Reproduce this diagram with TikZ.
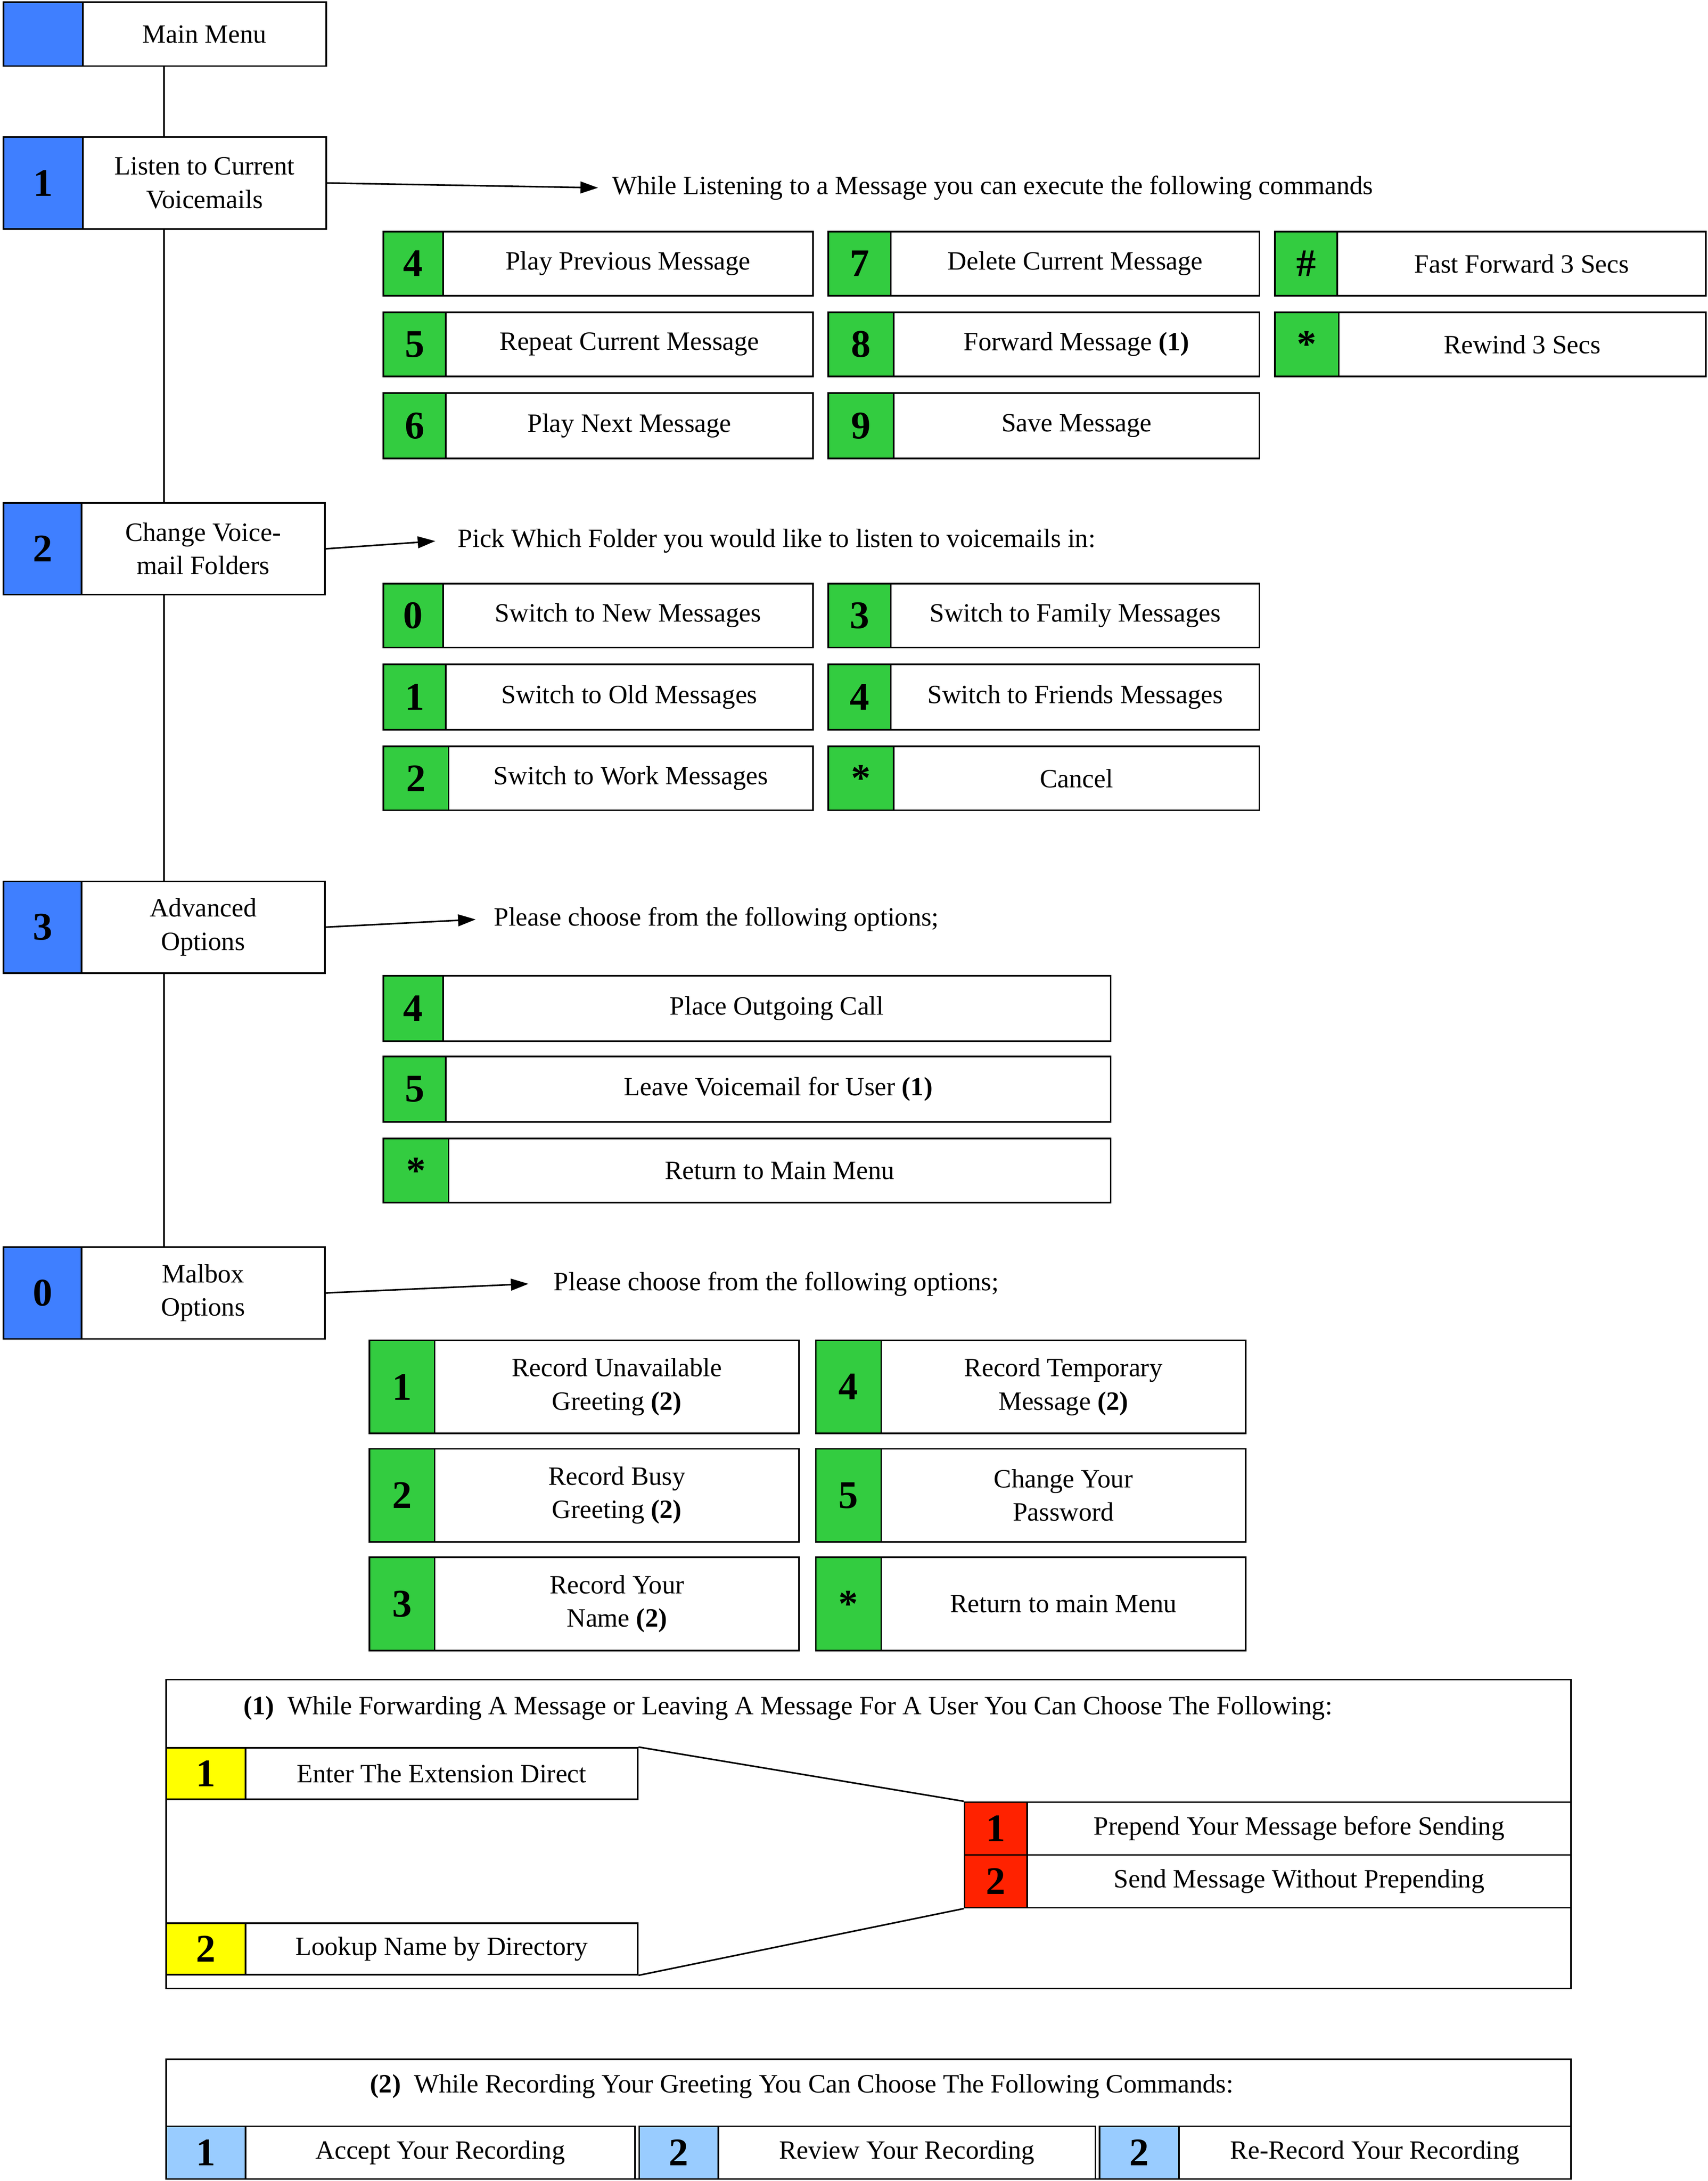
\documentclass[tikz,border=0pt]{standalone}
\usepackage{fontspec}
\setmainfont{Liberation Serif}
\usetikzlibrary{arrows.meta}
\definecolor{kblue}{HTML}{3F7FFF}
\definecolor{kgreen}{HTML}{33CC40}
\definecolor{kyellow}{HTML}{FFFF00}
\definecolor{kred}{HTML}{FF2200}
\definecolor{klblue}{HTML}{99CCFF}
\tikzset{
 kbox/.style={draw,line width=1.6pt,anchor=north west,inner sep=0pt,font=\fontsize{40}{40}\selectfont\bfseries},
 tbox/.style={draw,line width=1.6pt,anchor=north west,inner sep=0pt,align=center,font=\fontsize{27}{34}\selectfont},
 lbl/.style={anchor=west,inner sep=0pt,font=\fontsize{27}{34}\selectfont},
 conn/.style={line width=1.6pt},
 arr/.style={line width=1.6pt,-{Triangle[length=18pt,width=12pt]}}
}
% name,x1,y1,xs,x2,y2,color,num,text
\newcommand\kb[9]{%
 \node[kbox,fill=#7,minimum width={(#4-#2)*0.05cm},minimum height={(#6-#3)*0.05cm}] (#1k) at (#2,#3) {#8};
 \node[tbox,minimum width={(#5-#4)*0.05cm},minimum height={(#6-#3)*0.05cm}] (#1t) at (#4,#3) {#9};}
\begin{document}
\begin{tikzpicture}[x=0.05cm,y=-0.05cm]
\useasboundingbox (0,0) rectangle (1228,1568);
% left column
\kb{mm}{2}{1}{59}{234}{47}{kblue}{}{Main Menu}
\kb{m1}{2}{98}{59}{234}{164}{kblue}{1}{Listen to Current\\Voicemails}
\kb{m2}{2}{361}{58}{233}{427}{kblue}{2}{Change Voice-\\mail Folders}
\kb{m3}{2}{633}{58}{233}{699}{kblue}{3}{Advanced\\Options}
\kb{m0}{2}{896}{58}{233}{962}{kblue}{0}{Malbox\\Options}
\coordinate (v0) at (118,47); \coordinate (v1) at (118,98); \coordinate (v1b) at (118,164);
\coordinate (v2) at (118,361); \coordinate (v2b) at (118,427); \coordinate (v3) at (118,633);
\coordinate (v3b) at (118,699); \coordinate (v4) at (118,896);
\draw[conn] (v0)--(v1) (v1b)--(v2) (v2b)--(v3) (v3b)--(v4);
% section 1
\coordinate (a1) at (430,135);
\draw[arr] (m1t.east) -- (a1);
\node[lbl] (l1) at (440,135) {While Listening to a Message you can execute the following commands};
\kb{c4}{275}{166}{318}{584}{212}{kgreen}{4}{Play Previous Message}
\kb{c5}{275}{224}{320}{584}{270}{kgreen}{5}{Repeat Current Message}
\kb{c6}{275}{282}{320}{584}{329}{kgreen}{6}{Play Next Message}
\kb{c7}{595}{166}{640}{905}{212}{kgreen}{7}{Delete Current Message}
\kb{c8}{595}{224}{642}{905}{270}{kgreen}{8}{Forward Message \textbf{(1)}}
\kb{c9}{595}{282}{642}{905}{329}{kgreen}{9}{Save Message}
\kb{ch}{916}{166}{961}{1226}{212}{kgreen}{\#}{Fast Forward 3 Secs}
\kb{cs}{916}{224}{962}{1226}{270}{kgreen}{*}{Rewind 3 Secs}
% section 2
\coordinate (a2) at (313,389);
\draw[arr] (m2t.east) -- (a2);
\node[lbl] (l2) at (329,389) {Pick Which Folder you would like to listen to voicemails in:};
\kb{f0}{275}{419}{318}{584}{465}{kgreen}{0}{Switch to New Messages}
\kb{f1}{275}{477}{320}{584}{524}{kgreen}{1}{Switch to Old Messages}
\kb{f2}{275}{536}{322}{584}{582}{kgreen}{2}{Switch to Work Messages}
\kb{f3}{595}{419}{640}{905}{465}{kgreen}{3}{Switch to Family Messages}
\kb{f4}{595}{477}{640}{905}{524}{kgreen}{4}{Switch to Friends Messages}
\kb{fs}{595}{536}{642}{905}{582}{kgreen}{*}{Cancel}
% section 3
\coordinate (a3) at (342,661);
\draw[arr] (m3t.east) -- (a3);
\node[lbl] (l3) at (355,661) {Please choose from the following options;};
\kb{d4}{275}{701}{318}{798}{748}{kgreen}{4}{Place Outgoing Call}
\kb{d5}{275}{759}{320}{798}{806}{kgreen}{5}{Leave Voicemail for User \textbf{(1)}}
\kb{ds}{275}{818}{322}{798}{864}{kgreen}{*}{Return to Main Menu}
% section 0
\coordinate (a4) at (380,923);
\draw[arr] (m0t.east) -- (a4);
\node[lbl] (l4) at (398,923) {Please choose from the following options;};
\kb{e1}{265}{963}{312}{574}{1030}{kgreen}{1}{Record Unavailable\\Greeting \textbf{(2)}}
\kb{e2}{265}{1041}{312}{574}{1108}{kgreen}{2}{Record Busy\\Greeting \textbf{(2)}}
\kb{e3}{265}{1119}{312}{574}{1186}{kgreen}{3}{Record Your\\Name \textbf{(2)}}
\kb{e4}{586}{963}{633}{895}{1030}{kgreen}{4}{Record Temporary\\Message \textbf{(2)}}
\kb{e5}{586}{1041}{633}{895}{1108}{kgreen}{5}{Change Your\\Password}
\kb{es}{586}{1119}{633}{895}{1186}{kgreen}{*}{Return to main Menu}
% note (1)
\node[tbox,minimum width={1010*0.05cm},minimum height={222*0.05cm}] (n1) at (119,1207) {};
\node[lbl] (n1l) at (175,1228) {\textbf{(1)}\ \ While Forwarding A Message or Leaving A Message For A User You Can Choose The Following:};
\kb{y1}{119}{1256}{176}{458}{1293}{kyellow}{1}{Enter The Extension Direct}
\kb{y2}{119}{1382}{176}{458}{1419}{kyellow}{2}{Lookup Name by Directory}
\kb{r1}{693}{1295}{738}{1129}{1333}{kred}{1}{Prepend Your Message before Sending}
\kb{r2}{693}{1333}{738}{1129}{1371}{kred}{2}{Send Message Without Prepending}
\draw[conn] (y1t.north east) -- (r1k.north west);
\draw[conn] (y2t.south east) -- (r2k.south west);
% note (2)
\node[tbox,minimum width={1010*0.05cm},minimum height={86*0.05cm}] (n2) at (119,1480) {};
\node[lbl] (n2l) at (266,1500) {\textbf{(2)}\ \ While Recording Your Greeting You Can Choose The Following Commands:};
\kb{b1}{119}{1528}{176}{456}{1566}{klblue}{1}{Accept Your Recording}
\kb{b2}{459}{1528}{516}{787}{1566}{klblue}{2}{Review Your Recording}
\kb{b3}{790}{1528}{847}{1129}{1566}{klblue}{2}{Re-Record Your Recording}
\end{tikzpicture}
\end{document}
